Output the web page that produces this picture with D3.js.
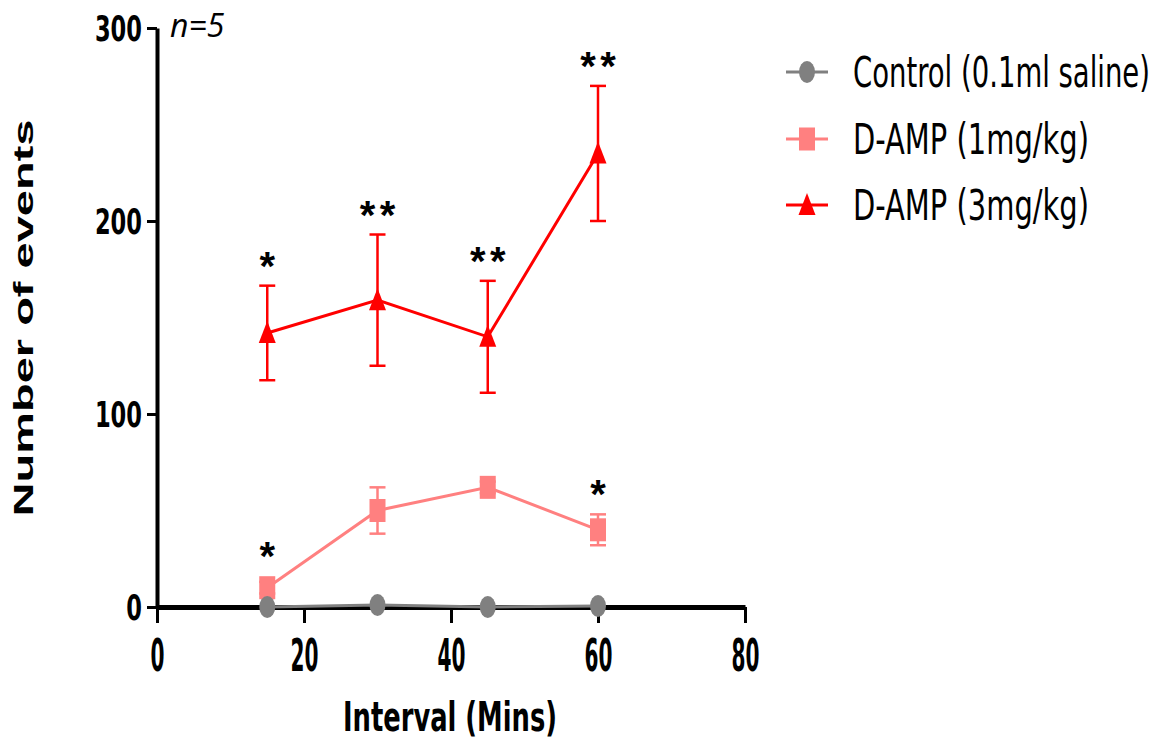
<!DOCTYPE html>
<html>
<head>
<meta charset="utf-8">
<script src="https://cdn.jsdelivr.net/npm/d3@7"></script>
<style>
    body { margin: 0; background: #fff; }
    .narrow { font-family: "Liberation Sans Narrow", "Arial Narrow", "DejaVu Sans Condensed", sans-serif; }
    .axis text { font-family: "Liberation Sans Narrow", "Arial Narrow", "DejaVu Sans Condensed", sans-serif; font-weight: bold; fill: #000; }
    .axis line, .axis path { stroke: #000; }
</style>
</head>
<body>
<div id="chart-area"></div>
<script>

// x values (minutes) and axis ticks
let intervals = [15, 30, 45, 60];
let xTicks = [0, 20, 40, 60, 80];
let yTicks = [0, 100, 200, 300];

// series names
let seriesNames = ["Control (0.1ml saline)", "D-AMP (1mg/kg)", "D-AMP (3mg/kg)"];

// mean +/- SEM
let controlMean = [0, 1, 0, 0.5];
let controlSem = [0, 0, 0, 0];
let amp1Mean = [10, 50, 62, 40];
let amp1Sem = [3, 12, 3, 8];
let amp3Mean = [142, 159, 140, 235];
let amp3Sem = [24.5, 34, 29, 35];

// significance marks
let controlStars = ["", "", "", ""];
let amp1Stars = ["*", "", "", "*"];
let amp3Stars = ["*", "**", "**", "**"];


class LineChart {

    constructor(parentElement, series) {
        this.parentElement = parentElement;
        this.series = series;
        this.initVis();
    }

    initVis() {
        let vis = this;

        vis.svg = d3.select("#" + vis.parentElement)
            .append("svg")
            .attr("width", 1163)
            .attr("height", 742);

        // Scales and axes
        vis.x = d3.scaleLinear().domain([0, 80]).range([157, 745]);
        vis.y = d3.scaleLinear().domain([0, 300]).range([607, 28]);

        vis.xAxis = d3.axisBottom(vis.x).tickValues(xTicks).tickSize(16).tickSizeOuter(0).tickPadding(16);
        vis.yAxis = d3.axisLeft(vis.y).tickValues(yTicks).tickSize(10).tickSizeOuter(0).tickPadding(5);

        vis.svg.append("g")
            .attr("class", "y-axis axis")
            .attr("transform", "translate(" + vis.x(0) + ",0)")
            .call(vis.yAxis);

        vis.svg.append("g")
            .attr("class", "x-axis axis")
            .attr("transform", "translate(0," + vis.y(0) + ")")
            .call(vis.xAxis);

        vis.svg.select(".y-axis .domain").attr("stroke-width", 4);
        vis.svg.selectAll(".y-axis .tick line").attr("stroke-width", 3);
        vis.svg.select(".x-axis .domain").attr("stroke-width", 5);
        vis.svg.selectAll(".x-axis .tick line").attr("stroke-width", 3);

        // squeeze digits to the condensed look of the original
        vis.svg.selectAll(".y-axis .tick text")
            .attr("font-size", 36)
            .attr("dy", "0.36em")
            .attr("textLength", d => String(d).length * 15.7)
            .attr("lengthAdjust", "spacingAndGlyphs");
        vis.svg.selectAll(".x-axis .tick text")
            .attr("font-size", 44)
            .attr("dy", "0.72em")
            .attr("textLength", d => String(d).length * 14)
            .attr("lengthAdjust", "spacingAndGlyphs");

        // Axis titles
        vis.svg.append("text")
            .attr("class", "narrow")
            .attr("x", 450)
            .attr("y", 731)
            .attr("text-anchor", "middle")
            .attr("font-weight", "bold")
            .attr("font-size", 41)
            .attr("textLength", 214)
            .attr("lengthAdjust", "spacingAndGlyphs")
            .text("Interval (Mins)");

        vis.svg.append("text")
            .attr("transform", "translate(33,318) rotate(-90)")
            .attr("text-anchor", "middle")
            .attr("font-family", "Liberation Sans, Arial, sans-serif")
            .attr("font-weight", "bold")
            .attr("font-size", 28)
            .attr("textLength", 397)
            .attr("lengthAdjust", "spacingAndGlyphs")
            .text("Number of events");

        vis.svg.append("text")
            .attr("x", 170)
            .attr("y", 37)
            .attr("font-family", "Open Sans, sans-serif")
            .attr("font-style", "italic")
            .attr("font-size", 32)
            .text("n=5");

        vis.line = d3.line()
            .x(d => vis.x(d.x))
            .y(d => vis.y(d.mean));

        vis.updateVis();
        vis.drawLegend();
    }

    marker(g, shape, color) {
        if (shape === "circle") {
            g.append("ellipse").attr("rx", 8).attr("ry", 11).attr("fill", color);
        } else if (shape === "square") {
            g.append("rect").attr("x", -8).attr("y", -11.5).attr("width", 16).attr("height", 23).attr("fill", color);
        } else {
            g.append("path").attr("d", "M0,-12L8.5,10L-8.5,10Z").attr("fill", color);
        }
    }

    updateVis() {
        let vis = this;

        // draw the top series first so the control sits on top
        vis.series.slice().reverse().forEach(function (s) {
            let pts = intervals.map((x, i) => ({x: x, mean: s.mean[i], sem: s.sem[i], star: s.stars[i]}));
            let g = vis.svg.append("g").attr("class", "series");

            // error bars
            let eb = g.selectAll(".err")
                .data(pts.filter(d => d.sem > 0))
                .enter().append("g")
                .attr("class", "err")
                .attr("stroke", s.color)
                .attr("stroke-width", 2.5);
            eb.append("line")
                .attr("x1", d => vis.x(d.x)).attr("x2", d => vis.x(d.x))
                .attr("y1", d => vis.y(d.mean - d.sem)).attr("y2", d => vis.y(d.mean + d.sem));
            eb.append("line")
                .attr("x1", d => vis.x(d.x) - 8).attr("x2", d => vis.x(d.x) + 8)
                .attr("y1", d => vis.y(d.mean + d.sem)).attr("y2", d => vis.y(d.mean + d.sem));
            eb.append("line")
                .attr("x1", d => vis.x(d.x) - 8).attr("x2", d => vis.x(d.x) + 8)
                .attr("y1", d => vis.y(d.mean - d.sem)).attr("y2", d => vis.y(d.mean - d.sem));

            g.append("path")
                .datum(pts)
                .attr("fill", "none")
                .attr("stroke", s.color)
                .attr("stroke-width", 3)
                .attr("d", vis.line);

            g.selectAll(".pt")
                .data(pts)
                .enter().append("g")
                .attr("class", "pt")
                .attr("transform", d => "translate(" + vis.x(d.x) + "," + vis.y(d.mean) + ")")
                .each(function () { vis.marker(d3.select(this), s.shape, s.color); });

            // significance asterisks above the bars
            g.selectAll(".star")
                .data(pts.filter(d => d.star))
                .enter().append("text")
                .attr("class", "star")
                .attr("x", d => vis.x(d.x))
                .attr("y", d => Math.min(vis.y(d.mean + d.sem), vis.y(d.mean) - 12) - 6)
                .attr("text-anchor", "middle")
                .attr("font-family", "Liberation Sans, Arial, sans-serif")
                .attr("font-weight", "bold")
                .attr("font-size", 40)
                .attr("letter-spacing", d => d.star.length > 1 ? 4.5 : 0)
                .attr("dx", d => d.star.length > 1 ? 2.2 : 0)
                .text(d => d.star);
        });
    }

    drawLegend() {
        let vis = this;
        let rowY = [72, 139, 205];

        vis.series.forEach(function (s, i) {
            let g = vis.svg.append("g").attr("transform", "translate(807," + rowY[i] + ")");
            g.append("line")
                .attr("x1", -21).attr("x2", 21)
                .attr("stroke", s.color)
                .attr("stroke-width", 3);
            vis.marker(g, s.shape, s.color);
            // small font stretched tall, like the original's tall condensed labels
            g.append("text")
                .attr("class", "narrow")
                .attr("transform", "translate(46,15) scale(1,1.65)")
                .attr("font-size", 26)
                .attr("textLength", i === 0 ? 297 : 236)
                .attr("lengthAdjust", "spacingAndGlyphs")
                .text(s.name);
        });
    }
}

let series = [
    {name: seriesNames[0], mean: controlMean, sem: controlSem, stars: controlStars, color: "#808080", shape: "circle"},
    {name: seriesNames[1], mean: amp1Mean, sem: amp1Sem, stars: amp1Stars, color: "#FF8080", shape: "square"},
    {name: seriesNames[2], mean: amp3Mean, sem: amp3Sem, stars: amp3Stars, color: "#FF0000", shape: "triangle"}
];

let chart = new LineChart("chart-area", series);

</script>
</body>
</html>
